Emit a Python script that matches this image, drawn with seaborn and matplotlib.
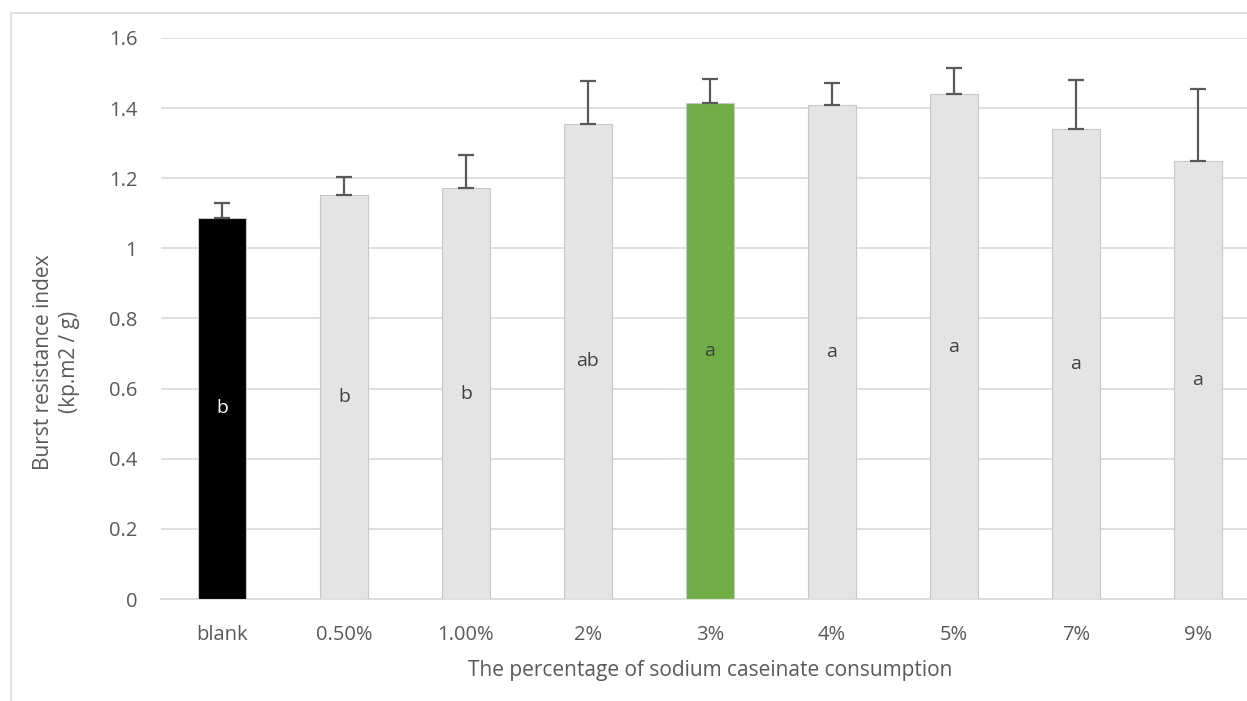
import matplotlib
matplotlib.use("Agg")
import matplotlib.pyplot as plt
import matplotlib.patches as mpatches
import seaborn as sns

# data
categories = ["blank", "0.50%", "1.00%", "2%", "3%", "4%", "5%", "7%", "9%"]
values = [1.087, 1.152, 1.171, 1.355, 1.414, 1.408, 1.440, 1.341, 1.250]
errors = [0.043, 0.052, 0.095, 0.123, 0.068, 0.065, 0.074, 0.139, 0.204]
letters = ["b", "b", "b", "ab", "a", "a", "a", "a", "a"]
bar_colors = ["#000000", "#E4E4E4", "#E4E4E4", "#E4E4E4", "#70AD47",
              "#E4E4E4", "#E4E4E4", "#E4E4E4", "#E4E4E4"]

TEXT = "#595959"
GRID = "#D9D9D9"

sns.set_theme(style="white")
plt.rcParams["font.family"] = ["Open Sans", "DejaVu Sans"]

fig = plt.figure(figsize=(12.47, 7.01), dpi=100)
# plot area runs past the right edge, as in the cropped original
ax = fig.add_axes([0.129, 0.1455, 0.8805, 0.8003])

sns.barplot(x=categories, y=values, hue=categories, palette=bar_colors,
            legend=False, width=0.39, ax=ax, saturation=1,
            edgecolor="#C8C8C8", linewidth=0.8, zorder=3)

# error bars (upper only, with a cap at the bar top)
ax.errorbar(range(len(categories)), values, yerr=[[0] * len(errors), errors],
            fmt="none", ecolor="#595959", elinewidth=1.6, capsize=6,
            capthick=1.6, zorder=4)

# letters in the middle of each bar
for i, (v, lab) in enumerate(zip(values, letters)):
    ax.text(i, v / 2, lab, ha="center", va="center", fontsize=14,
            color="white" if i == 0 else "#404040", zorder=5)

ax.set_ylim(0, 1.6)
ax.set_xlim(-0.5, len(categories) - 0.5)
ax.set_yticks([0, 0.2, 0.4, 0.6, 0.8, 1.0, 1.2, 1.4, 1.6])
ax.set_yticklabels(["0", "0.2", "0.4", "0.6", "0.8", "1", "1.2", "1.4", "1.6"])
ax.yaxis.grid(True, color=GRID, linewidth=1.2, zorder=0)
ax.set_axisbelow(True)
for side in ["top", "right", "left"]:
    ax.spines[side].set_visible(False)
ax.spines["bottom"].set_color(GRID)
ax.spines["bottom"].set_linewidth(1.2)
ax.tick_params(axis="y", length=0, pad=17, labelsize=14.5, labelcolor=TEXT)
ax.tick_params(axis="x", length=0, pad=19, labelsize=14.5, labelcolor=TEXT)

ax.set_xlabel("The percentage of sodium caseinate consumption",
              fontsize=15, color=TEXT)
ax.xaxis.set_label_coords(0.5, -0.108)
ax.set_ylabel("Burst resistance index\n(kp.m2 / g)", fontsize=15,
              color=TEXT, linespacing=1.3)
ax.yaxis.label.set_verticalalignment("center")
ax.yaxis.set_label_coords(-0.0952, 0.4225)

# chart area border
fig.patches.append(mpatches.Rectangle((11 / 1247, -0.05), 1.2, 0.05 + (701 - 13) / 701,
                                      transform=fig.transFigure, fill=False,
                                      edgecolor=GRID, linewidth=1.2))

fig.savefig("out.png", dpi=100)
